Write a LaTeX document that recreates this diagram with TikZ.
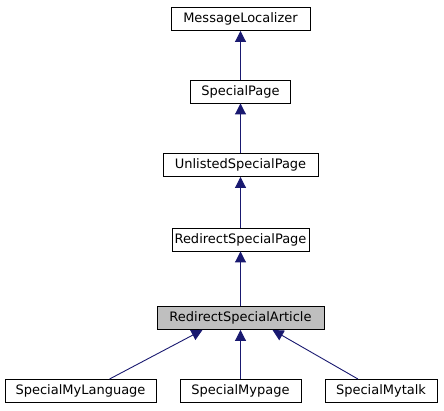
\documentclass[tikz,border=0pt]{standalone}
\usepackage{fontspec}
\setmainfont{DejaVu Sans}
\usetikzlibrary{arrows.meta}
\definecolor{edgeblue}{HTML}{191970}
\definecolor{hlgrey}{HTML}{BFBFBF}
\tikzset{
  cls/.style={draw=black, fill=white, line width=0.9pt, inner sep=0pt, minimum height=23pt, font=\fontsize{13pt}{15pt}\selectfont},
  inh/.style={draw=edgeblue, line width=0.9pt, -{Triangle[width=11pt,length=11pt]}}
}
\begin{document}
\begin{tikzpicture}[x=1pt,y=1pt]
\useasboundingbox (0,0) rectangle (444,411);
\node[cls, minimum width=139pt] (ml) at (240.5,392) {MessageLocalizer};
\node[cls, minimum width=100pt] (sp) at (240.5,319.5) {SpecialPage};
\node[cls, minimum width=155pt] (usp) at (240.5,246) {UnlistedSpecialPage};
\node[cls, minimum width=137pt] (rsp) at (240.5,171.5) {RedirectSpecialPage};
\node[cls, fill=hlgrey, minimum width=167pt] (rsa) at (240.5,93) {RedirectSpecialArticle};
\node[cls, minimum width=151pt] (sml) at (80.5,20) {SpecialMyLanguage};
\node[cls, minimum width=121pt] (smp) at (240.5,20) {SpecialMypage};
\node[cls, minimum width=112pt] (smt) at (381,20) {SpecialMytalk};
\coordinate (smlt) at ([xshift=29pt]sml.north);
\coordinate (smtt) at ([xshift=-23pt]smt.north);
\coordinate (rsal) at ([xshift=-38pt]rsa.south);
\coordinate (rsar) at ([xshift=32pt]rsa.south);
\draw[inh] (sp) -- (ml);
\draw[inh] (usp) -- (sp);
\draw[inh] (rsp) -- (usp);
\draw[inh] (rsa) -- (rsp);
\draw[inh] (smp) -- (rsa);
\draw[inh] (smlt) -- (rsal);
\draw[inh] (smtt) -- (rsar);
\end{tikzpicture}
\end{document}
